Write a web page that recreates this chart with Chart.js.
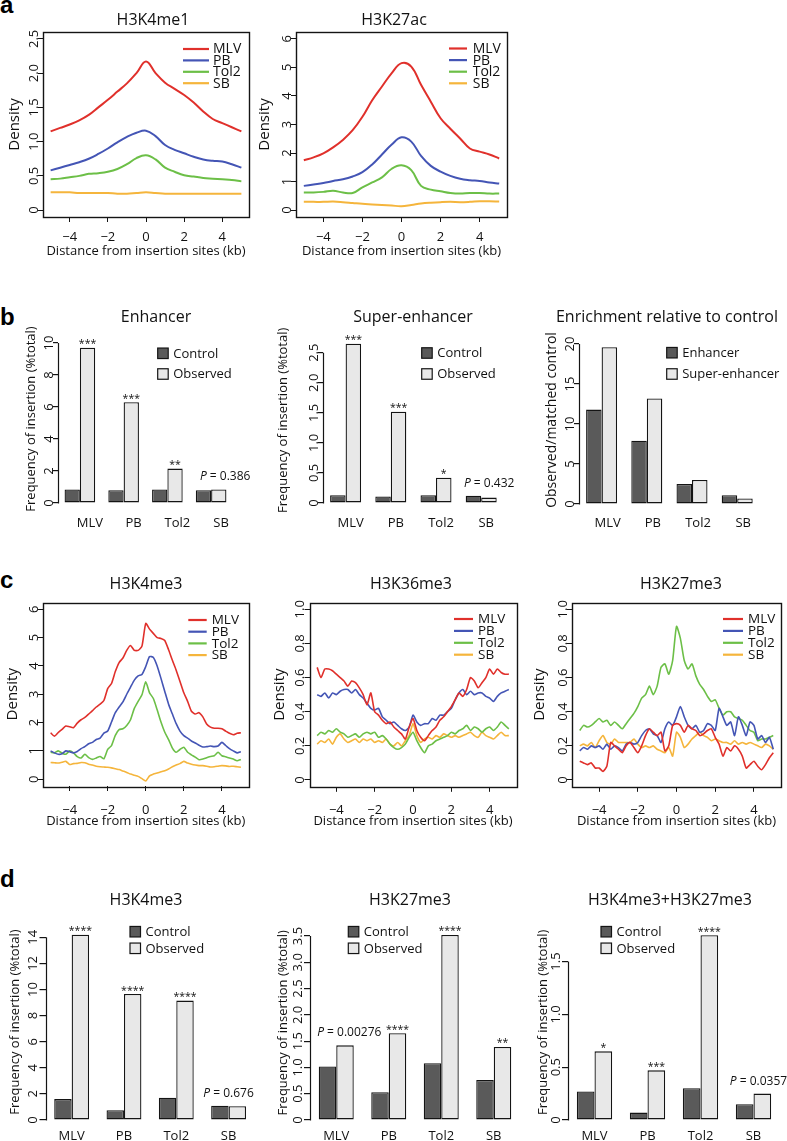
<!DOCTYPE html>
<html><head><meta charset="utf-8">
<script src="https://cdn.jsdelivr.net/npm/chart.js@4.4.1/dist/chart.umd.min.js"></script>
<style>
html,body{margin:0;padding:0;background:#fff;}
body{width:787px;height:1141px;position:relative;overflow:hidden;}
canvas{position:absolute;}
.lab{position:absolute;left:0;font:bold 24px "Liberation Sans",Arial,sans-serif;line-height:24px;color:#000;}
</style></head><body>
<div class="lab" style="top:-7px">a</div>
<div class="lab" style="top:305px">b</div>
<div class="lab" style="top:568px">c</div>
<div class="lab" style="top:867px">d</div>
<script>
// ---------------- DATA ----------------
const groups = ['MLV','PB','Tol2','SB'];
const seriesNames = ['MLV','PB','Tol2','SB'];
const xTicksLine = [-4,-2,0,2,4];
const xTickLabelsLine = ['\u22124','\u22122','0','2','4'];

// panel a: distance grid (kb)
const distA = [-5,-4.5,-4,-3.5,-3,-2.5,-2,-1.5,-1,-0.5,0,0.5,1,1.5,2,2.5,3,3.5,4,4.5,5];
const k4me1_MLV  = [1.15,1.2,1.25,1.31,1.39,1.5,1.61,1.73,1.85,2.0,2.17,2.0,1.86,1.77,1.68,1.57,1.44,1.33,1.27,1.21,1.15];
const k4me1_PB   = [0.58,0.62,0.66,0.7,0.75,0.82,0.9,0.99,1.07,1.13,1.16,1.08,0.95,0.88,0.83,0.78,0.74,0.72,0.71,0.67,0.62];
const k4me1_Tol2 = [0.45,0.46,0.48,0.5,0.53,0.54,0.56,0.6,0.67,0.76,0.8,0.74,0.62,0.56,0.51,0.49,0.47,0.46,0.45,0.44,0.42];
const k4me1_SB   = [0.26,0.26,0.26,0.25,0.25,0.25,0.25,0.24,0.24,0.25,0.26,0.25,0.24,0.24,0.24,0.24,0.24,0.24,0.24,0.24,0.24];
const k27ac_MLV  = [1.75,1.85,1.99,2.2,2.46,2.8,3.27,3.85,4.33,4.8,5.15,5.03,4.39,3.8,3.22,2.85,2.51,2.16,2.05,1.95,1.81];
const k27ac_PB   = [0.85,0.9,0.95,1.02,1.08,1.18,1.33,1.6,1.95,2.3,2.55,2.4,1.9,1.55,1.35,1.2,1.1,1.05,1.02,0.97,0.93];
const k27ac_Tol2 = [0.62,0.62,0.64,0.68,0.62,0.6,0.8,0.97,1.15,1.45,1.57,1.4,0.85,0.72,0.66,0.6,0.58,0.6,0.6,0.58,0.58];
const k27ac_SB   = [0.29,0.29,0.29,0.3,0.28,0.25,0.22,0.2,0.18,0.16,0.14,0.18,0.23,0.26,0.28,0.29,0.28,0.29,0.31,0.31,0.3];

// panel c: distance grid (kb)
const distC = [-5,-4.8,-4.6,-4.4,-4.2,-4,-3.8,-3.6,-3.4,-3.2,-3,-2.8,-2.6,-2.4,-2.2,-2,-1.8,-1.6,-1.4,-1.2,-1,-0.8,-0.6,-0.4,-0.2,0,0.2,0.4,0.6,0.8,1,1.2,1.4,1.6,1.8,2,2.2,2.4,2.6,2.8,3,3.2,3.4,3.6,3.8,4,4.2,4.4,4.6,4.8,5];
const k4me3_MLV  = [1.64,1.52,1.65,1.76,1.88,1.85,1.82,1.98,2.1,2.18,2.3,2.42,2.55,2.65,2.78,3.2,3.38,3.8,4.12,4.28,4.55,4.72,4.55,4.55,4.7,5.5,5.3,5.15,5.0,4.97,4.9,4.57,4.2,3.85,3.45,3.05,2.75,2.4,2.3,2.35,2.2,1.95,1.84,1.8,1.8,1.78,1.7,1.62,1.57,1.62,1.64];
const k4me3_PB   = [1.0,0.93,0.88,0.9,1.0,0.97,0.93,0.98,1.08,1.15,1.25,1.3,1.4,1.45,1.63,1.7,2.02,2.35,2.55,2.73,3.0,3.25,3.5,3.65,3.7,3.98,4.33,4.3,4.0,3.56,3.1,2.65,2.3,1.96,1.7,1.54,1.45,1.35,1.28,1.2,1.14,1.15,1.17,1.15,1.17,1.3,1.19,1.08,1.0,0.93,0.97];
const k4me3_Tol2 = [0.95,0.93,1.0,0.92,0.88,1.0,0.93,0.8,0.75,0.88,0.76,0.7,0.75,0.8,0.72,1.05,1.19,1.55,1.75,1.78,1.9,2.1,2.5,2.75,2.98,3.44,3.05,2.85,2.45,2.02,1.66,1.4,1.1,0.95,1.05,1.13,0.95,0.86,0.78,0.69,0.71,0.76,0.8,0.83,0.95,0.83,0.79,0.75,0.71,0.65,0.7];
const k4me3_SB   = [0.59,0.58,0.57,0.6,0.63,0.52,0.55,0.56,0.59,0.58,0.53,0.5,0.46,0.44,0.43,0.42,0.4,0.37,0.34,0.29,0.24,0.18,0.14,0.1,0.02,-0.06,0.12,0.18,0.22,0.26,0.3,0.36,0.44,0.5,0.55,0.63,0.57,0.53,0.5,0.48,0.48,0.46,0.43,0.44,0.46,0.48,0.47,0.45,0.46,0.44,0.42];
const k36me3_MLV  = [0.66,0.6,0.65,0.65,0.64,0.62,0.6,0.58,0.55,0.58,0.57,0.54,0.5,0.44,0.51,0.4,0.38,0.35,0.33,0.34,0.31,0.29,0.27,0.24,0.31,0.36,0.29,0.25,0.23,0.26,0.29,0.31,0.35,0.37,0.4,0.43,0.47,0.51,0.49,0.53,0.6,0.58,0.54,0.57,0.6,0.65,0.62,0.65,0.63,0.62,0.62];
const k36me3_PB   = [0.5,0.49,0.51,0.48,0.51,0.5,0.52,0.53,0.53,0.51,0.53,0.5,0.48,0.45,0.42,0.41,0.42,0.37,0.35,0.33,0.34,0.32,0.3,0.29,0.31,0.38,0.34,0.32,0.33,0.33,0.36,0.35,0.38,0.38,0.4,0.42,0.47,0.51,0.53,0.5,0.52,0.5,0.51,0.51,0.49,0.48,0.46,0.49,0.51,0.52,0.53];
const k36me3_Tol2 = [0.26,0.28,0.27,0.29,0.28,0.3,0.28,0.27,0.25,0.26,0.27,0.25,0.27,0.28,0.27,0.28,0.25,0.26,0.24,0.21,0.19,0.18,0.19,0.21,0.25,0.28,0.23,0.19,0.16,0.2,0.21,0.23,0.24,0.25,0.26,0.28,0.27,0.29,0.3,0.32,0.29,0.31,0.3,0.28,0.3,0.31,0.29,0.31,0.34,0.32,0.3];
const k36me3_SB   = [0.21,0.23,0.22,0.24,0.21,0.25,0.27,0.24,0.22,0.23,0.24,0.22,0.24,0.23,0.24,0.22,0.23,0.22,0.24,0.21,0.2,0.22,0.2,0.23,0.26,0.33,0.26,0.22,0.24,0.25,0.24,0.26,0.25,0.27,0.26,0.25,0.26,0.25,0.26,0.27,0.28,0.26,0.25,0.28,0.26,0.25,0.24,0.26,0.28,0.26,0.26];
const k27me3_MLV  = [0.11,0.1,0.09,0.1,0.07,0.07,0.05,0.08,0.22,0.2,0.18,0.16,0.2,0.22,0.19,0.16,0.2,0.26,0.3,0.28,0.26,0.28,0.17,0.2,0.32,0.33,0.32,0.28,0.32,0.3,0.29,0.26,0.27,0.29,0.3,0.25,0.21,0.14,0.19,0.17,0.2,0.18,0.14,0.07,0.09,0.11,0.08,0.06,0.09,0.13,0.16];
const k27me3_PB   = [0.17,0.19,0.18,0.2,0.19,0.2,0.18,0.21,0.18,0.2,0.19,0.17,0.21,0.22,0.21,0.22,0.26,0.29,0.3,0.27,0.26,0.22,0.3,0.34,0.32,0.37,0.43,0.37,0.32,0.3,0.32,0.28,0.29,0.33,0.32,0.29,0.42,0.37,0.32,0.34,0.26,0.37,0.32,0.26,0.34,0.32,0.24,0.26,0.22,0.25,0.18];
const k27me3_Tol2 = [0.29,0.32,0.31,0.32,0.34,0.36,0.34,0.35,0.32,0.34,0.32,0.3,0.33,0.36,0.39,0.43,0.48,0.5,0.55,0.5,0.55,0.66,0.68,0.62,0.7,0.9,0.83,0.7,0.65,0.68,0.61,0.56,0.53,0.49,0.46,0.47,0.42,0.38,0.4,0.4,0.37,0.36,0.35,0.32,0.29,0.28,0.23,0.24,0.24,0.25,0.26];
const k27me3_SB   = [0.2,0.21,0.2,0.22,0.19,0.23,0.26,0.22,0.21,0.24,0.22,0.22,0.22,0.22,0.24,0.21,0.19,0.2,0.19,0.2,0.18,0.17,0.16,0.19,0.14,0.28,0.25,0.19,0.21,0.24,0.26,0.28,0.26,0.25,0.23,0.24,0.23,0.22,0.22,0.21,0.23,0.21,0.22,0.21,0.22,0.21,0.2,0.19,0.21,0.2,0.18];

// panel b
const enh_control  = [0.85,0.8,0.85,0.8];
const enh_observed = [9.7,6.3,2.15,0.85];
const enh_notes    = ['***','***','**','P = 0.386'];
const se_control   = [0.13,0.11,0.13,0.12];
const se_observed  = [2.65,1.52,0.42,0.09];
const se_notes     = ['***','***','*','P = 0.432'];
const enr_enhancer = [11.8,7.9,2.5,1.1];
const enr_super    = [19.6,13.2,3.0,0.7];

// panel d
const dk4_control   = [1.6,0.75,1.7,1.1];
const dk4_observed  = [14.2,9.65,9.15,1.05];
const dk4_notes     = ['****','****','****','P = 0.676'];
const dk27_control  = [1.02,0.53,1.08,0.76];
const dk27_observed = [1.42,1.65,3.52,1.39];
const dk27_notes    = ['P = 0.00276','****','****','**'];
const dbiv_control  = [0.27,0.07,0.3,0.15];
const dbiv_observed = [0.65,0.47,1.75,0.25];
const dbiv_notes    = ['*','***','****','P = 0.0357'];

// tick labels
const yT_k4me1 = [0,0.5,1,1.5,2,2.5], yL_k4me1 = ['0','0.5','1.0','1.5','2.0','2.5'];
const yT_six = [0,1,2,3,4,5,6], yL_six = ['0','1','2','3','4','5','6'];
const yT_one = [0,0.2,0.4,0.6,0.8,1.0], yL_one = ['0','0.2','0.4','0.6','0.8','1.0'];
const yT_enh = [0,2,4,6,8,10], yL_enh = ['0','2','4','6','8','10'];
const yT_se = [0,0.5,1,1.5,2,2.5], yL_se = ['0','0.5','1.0','1.5','2.0','2.5'];
const yT_enr = [0,5,10,15,20], yL_enr = ['0','5','10','15','20'];
const yT_dk4 = [0,2,4,6,8,10,12,14], yL_dk4 = ['0','2','4','6','8','10','12','14'];
const yT_dk27 = [0,0.5,1,1.5,2,2.5,3,3.5], yL_dk27 = ['0','0.5','1.0','1.5','2.0','2.5','3.0','3.5'];
const yT_dbiv = [0,0.5,1,1.5], yL_dbiv = ['0','0.5','1.0','1.5'];

// ---------------- STYLE / LAYOUT ----------------
const FF = '"Open Sans", "Noto Sans", sans-serif';
const LINE_COLORS = ['#e0302b','#4455b5','#6cbf47','#f5b53c'];
const DARK = '#5a5a5a', LIGHT = '#e8e8e8', INK = '#141414';
Chart.defaults.font.family = FF;
Chart.defaults.color = '#111';

const rPlugin = {
  id: 'rstyle',
  afterDraw(chart, args, o) {
    const ctx = chart.ctx, ca = chart.chartArea, ys = chart.scales.y;
    ctx.save();
    ctx.strokeStyle = INK; ctx.fillStyle = '#111';
    if (o.box) {
      ctx.lineWidth = 1.4;
      ctx.strokeRect(Math.round(ca.left) + 0.5, Math.round(ca.top) + 0.5, Math.round(ca.right - ca.left), Math.round(ca.bottom - ca.top));
    }
    if (o.axisLine) {
      const x = Math.round(ca.left) + 0.5;
      ctx.lineWidth = 1.2;
      ctx.beginPath();
      ctx.moveTo(x, ys.getPixelForValue(o.yTicks[0]) + 0.5);
      ctx.lineTo(x, ys.getPixelForValue(o.yTicks[o.yTicks.length - 1]));
      ctx.stroke();
    }
    ctx.font = '13px ' + FF;
    o.yTicks.forEach((v, i) => {
      ctx.save();
      ctx.translate(ca.left - o.tickLen - o.labelGap, ys.getPixelForValue(v));
      ctx.rotate(-Math.PI / 2);
      ctx.textAlign = 'center'; ctx.textBaseline = 'alphabetic';
      ctx.fillText(o.yLabels[i], 0, 0);
      ctx.restore();
    });
    if (o.title) {
      ctx.font = '16px ' + FF; ctx.textAlign = 'center'; ctx.textBaseline = 'middle';
      ctx.fillText(o.title.text, o.title.x, o.title.y);
    }
    if (o.lineLegend) {
      const lg = o.lineLegend;
      ctx.font = lg.size + 'px ' + FF; ctx.textAlign = 'left'; ctx.textBaseline = 'middle';
      chart.data.datasets.forEach((ds, i) => {
        const y = lg.y + i * lg.h;
        ctx.strokeStyle = ds.borderColor; ctx.lineWidth = 2.2;
        ctx.beginPath(); ctx.moveTo(lg.x1, y); ctx.lineTo(lg.x2, y); ctx.stroke();
        ctx.fillStyle = '#111'; ctx.fillText(ds.label, lg.tx, y + 0.5);
      });
    }
    if (o.barLegend) {
      const lg = o.barLegend, s = 10.5;
      ctx.font = '13px ' + FF; ctx.textAlign = 'left'; ctx.textBaseline = 'middle';
      chart.data.datasets.forEach((ds, i) => {
        const y = lg.y + i * lg.h;
        ctx.fillStyle = ds.backgroundColor; ctx.fillRect(lg.x, y - s / 2, s, s);
        ctx.strokeStyle = INK; ctx.lineWidth = 1.2; ctx.strokeRect(lg.x, y - s / 2, s, s);
        ctx.fillStyle = '#111'; ctx.fillText(ds.label, lg.tx, y + 0.5);
      });
    }
    if (o.notes) {
      const m0 = chart.getDatasetMeta(0).data, m1 = chart.getDatasetMeta(1).data;
      o.notes.forEach((t, i) => {
        if (!t) return;
        const top = Math.min(m0[i].y, m1[i].y);
        if (t.charAt(0) === 'P') {
          const cx = (m0[i].x + m1[i].x) / 2 + o.pdx, cy = top - 12.5;
          const rest = t.slice(1);
          ctx.font = 'italic 12px ' + FF; const w1 = ctx.measureText('P').width;
          ctx.font = '12px ' + FF; const w2 = ctx.measureText(rest).width;
          const x0 = cx - (w1 + w2) / 2;
          ctx.textAlign = 'left'; ctx.textBaseline = 'middle';
          ctx.font = 'italic 12px ' + FF; ctx.fillText('P', x0, cy);
          ctx.font = '12px ' + FF; ctx.fillText(rest, x0 + w1, cy);
        } else {
          ctx.font = '10.5px ' + FF; ctx.textAlign = 'center'; ctx.textBaseline = 'alphabetic';
          ctx.fillText(t, m1[i].x, top - 0.5);
        }
      });
    }
    ctx.restore();
  }
};

function mkCanvas(L, T, W, H) {
  const c = document.createElement('canvas');
  c.width = W; c.height = H;
  c.style.left = L + 'px'; c.style.top = T + 'px';
  c.style.width = W + 'px'; c.style.height = H + 'px';
  document.body.appendChild(c);
  return c;
}

function lineChart(sp) {
  const [L, T, R, B] = sp.canvas, a = sp.area;
  const cv = mkCanvas(L, T, R - L, B - T);
  const xlh = 13 * 1.2, ylh = 15 * 1.2;
  return new Chart(cv, {
    type: 'line',
    data: { datasets: sp.series.map((ys, i) => ({
      label: seriesNames[i],
      data: sp.x.map((x, j) => ({ x: x, y: ys[j] })),
      borderColor: LINE_COLORS[i], borderWidth: sp.lw, pointRadius: 0,
      tension: sp.tension, fill: false
    })) },
    options: {
      responsive: false, animation: false, events: [],
      layout: { padding: { left: 0, top: a.t - T, right: R - a.r, bottom: 0 } },
      plugins: {
        legend: { display: false }, tooltip: { enabled: false },
        rstyle: {
          box: true, tickLen: 5, labelGap: 0.5, yTicks: sp.yTicks, yLabels: sp.yLabels,
          title: { text: sp.title, x: sp.titleXY[0] - L, y: sp.titleXY[1] - T },
          lineLegend: { x1: sp.leg[0] - L, x2: sp.leg[1] - L, tx: sp.leg[2] - L, y: sp.leg[3] - T, h: sp.leg[4], size: sp.legSize }
        }
      },
      scales: {
        x: {
          type: 'linear', min: -5.4, max: 5.4,
          afterBuildTicks: s => { s.ticks = xTicksLine.map(v => ({ value: v })); },
          afterFit: s => { s.height = B - a.b; },
          grid: { display: true, drawOnChartArea: false, drawTicks: true, tickLength: 5, color: INK, lineWidth: 1 },
          border: { display: false },
          ticks: { font: { size: 13 }, color: '#111', padding: sp.xTickPad, maxRotation: 0, autoSkip: false,
                   callback: (v, i) => xTickLabelsLine[i] },
          title: { display: true, text: 'Distance from insertion sites (kb)', font: { size: 13 }, color: '#111',
                   padding: { top: 0, bottom: B - sp.xTitleY - xlh / 2 } }
        },
        y: {
          type: 'linear', min: sp.yMin, max: sp.yMax,
          afterBuildTicks: s => { s.ticks = sp.yTicks.map(v => ({ value: v })); },
          afterFit: s => { s.width = a.l - L; },
          grid: { display: true, drawOnChartArea: false, drawTicks: true, tickLength: 5, color: INK, lineWidth: 1 },
          border: { display: false },
          ticks: { display: false },
          title: { display: true, text: 'Density', font: { size: 15 }, color: '#111',
                   padding: { top: sp.yTitleX - L - ylh / 2, bottom: 0 } }
        }
      }
    },
    plugins: [rPlugin]
  });
}

function barChart(sp) {
  const [L, T, R, B] = sp.canvas, a = sp.area;
  const cv = mkCanvas(L, T, R - L, B - T);
  const ylh = sp.yTitleSize * 1.2;
  const mk = (label, data, color) => ({ label, data, backgroundColor: color, borderColor: INK, borderWidth: 1.3,
    borderSkipped: false, categoryPercentage: sp.cp, barPercentage: 1 });
  return new Chart(cv, {
    type: 'bar',
    data: { labels: groups, datasets: [mk(sp.names[0], sp.s1, DARK), mk(sp.names[1], sp.s2, LIGHT)] },
    options: {
      responsive: false, animation: false, events: [],
      layout: { padding: { left: 0, top: a.t - T, right: R - a.r, bottom: 0 } },
      plugins: {
        legend: { display: false }, tooltip: { enabled: false },
        rstyle: {
          axisLine: true, tickLen: sp.tickLen, labelGap: sp.labelGap, yTicks: sp.yTicks, yLabels: sp.yLabels,
          title: { text: sp.title, x: sp.titleXY[0] - L, y: sp.titleXY[1] - T },
          barLegend: { x: sp.leg[0] - L, tx: sp.leg[0] + 15.5 - L, y: sp.leg[1] - T, h: sp.leg[2] },
          notes: sp.notes, pdx: sp.pdx || 0
        }
      },
      scales: {
        x: {
          type: 'category', offset: true,
          grid: { display: false, drawTicks: false }, border: { display: false },
          afterFit: s => { s.height = B - a.b; },
          ticks: { font: { size: 13 }, color: '#111', padding: sp.xTickPad, labelOffset: sp.labelOffset || 0,
                   maxRotation: 0, autoSkip: false }
        },
        y: {
          type: 'linear', min: 0, max: sp.yMax,
          afterBuildTicks: s => { s.ticks = sp.yTicks.map(v => ({ value: v })); },
          afterFit: s => { s.width = a.l - L; },
          grid: { display: true, drawOnChartArea: false, drawTicks: true, tickLength: sp.tickLen, color: INK, lineWidth: 1.2 },
          border: { display: false },
          ticks: { display: false },
          title: { display: true, text: sp.yTitle, font: { size: sp.yTitleSize }, color: '#111',
                   padding: { top: sp.yTitleX - L - ylh / 2, bottom: 0 } }
        }
      }
    },
    plugins: [rPlugin]
  });
}

// ---------------- PANEL a ----------------
lineChart({ canvas: [0, 0, 262, 262], area: { l: 43, t: 32, r: 249, b: 217 }, x: distA,
  series: [k4me1_MLV, k4me1_PB, k4me1_Tol2, k4me1_SB], yMin: -0.1, yMax: 2.6, yTicks: yT_k4me1, yLabels: yL_k4me1,
  title: 'H3K4me1', titleXY: [153, 20], yTitleX: 15, xTitleY: 251.5, xTickPad: 7,
  leg: [183, 209, 213, 49, 11.4], legSize: 14, lw: 2, tension: 0.4 });
lineChart({ canvas: [250, 0, 520, 262], area: { l: 296, t: 32, r: 507, b: 217 }, x: distA,
  series: [k27ac_MLV, k27ac_PB, k27ac_Tol2, k27ac_SB], yMin: -0.24, yMax: 6.24, yTicks: yT_six, yLabels: yL_six,
  title: 'H3K27ac', titleXY: [394, 20], yTitleX: 265, xTitleY: 251.5, xTickPad: 7,
  leg: [449, 467, 472.7, 48.5, 11.6], legSize: 14, lw: 2, tension: 0.4 });

// ---------------- PANEL b ----------------
barChart({ canvas: [0, 300, 262, 535], area: { l: 58, t: 335, r: 233, b: 503 }, s1: enh_control, s2: enh_observed,
  names: ['Control', 'Observed'], yMax: 10.5, yTicks: yT_enh, yLabels: yL_enh, title: 'Enhancer', titleXY: [156, 317.3],
  yTitle: 'Frequency of insertion (%total)', yTitleSize: 13, yTitleX: 31.7, tickLen: 5, labelGap: 0.5,
  xTickPad: 12, labelOffset: 10, cp: 0.70, leg: [157.7, 353.3, 20.7], notes: enh_notes, pdx: 14 });
barChart({ canvas: [262, 300, 528, 535], area: { l: 323, t: 337.7, r: 503.8, b: 503 }, s1: se_control, s2: se_observed,
  names: ['Control', 'Observed'], yMax: 2.75, yTicks: yT_se, yLabels: yL_se, title: 'Super-enhancer', titleXY: [413, 317.3],
  yTitle: 'Frequency of insertion (%total)', yTitleSize: 13, yTitleX: 283.3, tickLen: 5, labelGap: 0.5,
  xTickPad: 12, labelOffset: 5, cp: 0.686, leg: [421.7, 353, 21], notes: se_notes, pdx: 8 });
barChart({ canvas: [528, 300, 787, 535], area: { l: 579, t: 336, r: 759.8, b: 504 }, s1: enr_enhancer, s2: enr_super,
  names: ['Enhancer', 'Super-enhancer'], yMax: 21, yTicks: yT_enr, yLabels: yL_enr, title: 'Enrichment relative to control', titleXY: [667, 317.3],
  yTitle: 'Observed/matched control', yTitleSize: 14, yTitleX: 551.7, tickLen: 5, labelGap: 0.5,
  xTickPad: 11, labelOffset: 6, cp: 0.686, leg: [666.7, 352.7, 21.3], notes: null });

// ---------------- PANEL c ----------------
lineChart({ canvas: [0, 570, 262, 830], area: { l: 43, t: 602.5, r: 248.5, b: 786 }, x: distC,
  series: [k4me3_MLV, k4me3_PB, k4me3_Tol2, k4me3_SB], yMin: -0.24, yMax: 6.24, yTicks: yT_six, yLabels: yL_six,
  title: 'H3K4me3', titleXY: [146, 584], yTitleX: 12.7, xTitleY: 821, xTickPad: 11,
  leg: [188.3, 206.7, 211.7, 620, 11.7], legSize: 13.5, lw: 1.6, tension: 0.2 });
lineChart({ canvas: [262, 570, 528, 830], area: { l: 309.5, t: 602.5, r: 516.5, b: 786.8 }, x: distC,
  series: [k36me3_MLV, k36me3_PB, k36me3_Tol2, k36me3_SB], yMin: -0.04, yMax: 1.04, yTicks: yT_one, yLabels: yL_one,
  title: 'H3K36me3', titleXY: [411, 584], yTitleX: 280, xTitleY: 821, xTickPad: 11,
  leg: [454, 473, 478, 619, 11.9], legSize: 13.5, lw: 1.6, tension: 0.2 });
lineChart({ canvas: [528, 570, 787, 830], area: { l: 572, t: 602.5, r: 781, b: 786.8 }, x: distC,
  series: [k27me3_MLV, k27me3_PB, k27me3_Tol2, k27me3_SB], yMin: -0.04, yMax: 1.04, yTicks: yT_one, yLabels: yL_one,
  title: 'H3K27me3', titleXY: [681, 584], yTitleX: 540, xTitleY: 821, xTickPad: 11,
  leg: [723, 743, 748, 619, 11.9], legSize: 13.5, lw: 1.6, tension: 0.2 });

// ---------------- PANEL d ----------------
barChart({ canvas: [0, 880, 262, 1141], area: { l: 45.5, t: 924.25, r: 254.75, b: 1120 }, s1: dk4_control, s2: dk4_observed,
  names: ['Control', 'Observed'], yMax: 15, yTicks: yT_dk4, yLabels: yL_dk4, title: 'H3K4me3', titleXY: [146, 900],
  yTitle: 'Frequency of insertion (%total)', yTitleSize: 13, yTitleX: 15, tickLen: 6, labelGap: 2.5,
  xTickPad: 8, labelOffset: 0, cp: 2 / 3, leg: [130, 931.7, 16.6], notes: dk4_notes, pdx: 0 });
barChart({ canvas: [262, 880, 528, 1141], area: { l: 310, t: 925.5, r: 520, b: 1120 }, s1: dk27_control, s2: dk27_observed,
  names: ['Control', 'Observed'], yMax: 3.7, yTicks: yT_dk27, yLabels: yL_dk27, title: 'H3K27me3', titleXY: [410, 900],
  yTitle: 'Frequency of insertion (%total)', yTitleSize: 13, yTitleX: 283.3, tickLen: 6, labelGap: 2.5,
  xTickPad: 8, labelOffset: 0, cp: 2 / 3, leg: [348.3, 931.7, 16.6], notes: dk27_notes, pdx: 13 });
barChart({ canvas: [528, 880, 787, 1141], area: { l: 568, t: 924.6, r: 780, b: 1120 }, s1: dbiv_control, s2: dbiv_observed,
  names: ['Control', 'Observed'], yMax: 1.85, yTicks: yT_dbiv, yLabels: yL_dbiv, title: 'H3K4me3+H3K27me3', titleXY: [670, 900],
  yTitle: 'Frequency of insertion (%total)', yTitleSize: 13, yTitleX: 543.3, tickLen: 6, labelGap: 2.5,
  xTickPad: 8, labelOffset: 0, cp: 2 / 3, leg: [601, 931.7, 16.6], notes: dbiv_notes, pdx: 5 });
</script>
</body></html>
